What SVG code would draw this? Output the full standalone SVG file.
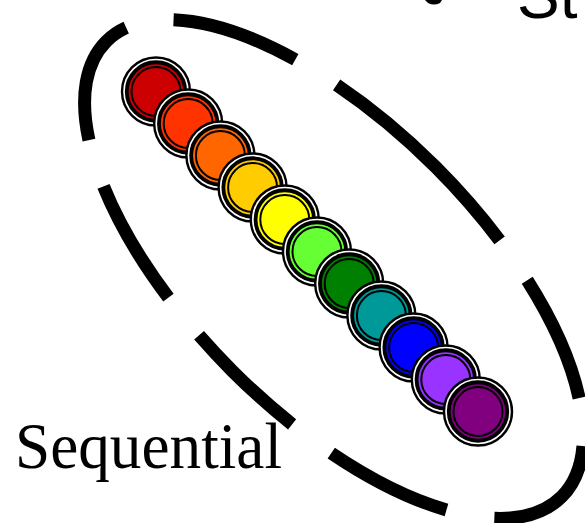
<svg xmlns="http://www.w3.org/2000/svg" width="585" height="523" viewBox="0 0 585 523">
  <style>
    .ring { fill: #ffffff; stroke: #000000; stroke-width: 2.4; }
    .mid { stroke: #000000; stroke-width: 3.8; }
    .inner { stroke: #000000; stroke-width: 2; }
    .cluster { fill: none; stroke: #000000; stroke-width: 13; stroke-dasharray: 129 48.5; stroke-linecap: butt; }
    .label { font-family: "Liberation Serif", "Times New Roman", serif; font-size: 65px; fill: #000000; }
    .title { font-family: "Liberation Sans", Arial, sans-serif; font-size: 64px; fill: #000000; }
  </style>
  <defs>
    <g id="node-shape">
      <circle r="34" class="ring"/>
    </g>
  </defs>
  <rect width="585" height="523" fill="#ffffff"/>

  <g id="cluster-sequential">
    <path class="cluster" d="M 435.8 167.2 A 322 144 45 0 0 106.3 41.3 A 322 144 45 0 0 232.2 370.8 A 322 144 45 0 0 561.7 496.7 A 322 144 45 0 0 435.8 167.2 Z"/>
    <text class="label" x="15" y="468" textLength="267" lengthAdjust="spacingAndGlyphs">Sequential</text>
  </g>

  <g id="other-cluster">
    <path d="M 425 0 L 442 0 L 440 3 Q 434 6 428 3 Z" fill="#000000"/>
    <text class="title" x="517" y="18">St</text>
  </g>

  <g id="connectors"></g>

  <g id="n1" transform="translate(156,91.5)">
    <use href="#node-shape"/>
    <circle r="29.25" class="mid" fill="#CC0000"/>
    <circle r="24.5" class="inner" fill="#CC0000"/>
  </g>
  <g id="n2" transform="translate(188.2,123.5)">
    <use href="#node-shape"/>
    <circle r="29.25" class="mid" fill="#FF3300"/>
    <circle r="24.5" class="inner" fill="#FF3300"/>
  </g>
  <g id="n3" transform="translate(220.4,155.5)">
    <use href="#node-shape"/>
    <circle r="29.25" class="mid" fill="#FF6600"/>
    <circle r="24.5" class="inner" fill="#FF6600"/>
  </g>
  <g id="n4" transform="translate(252.6,187.5)">
    <use href="#node-shape"/>
    <circle r="29.25" class="mid" fill="#FFCC00"/>
    <circle r="24.5" class="inner" fill="#FFCC00"/>
  </g>
  <g id="n5" transform="translate(284.8,219.5)">
    <use href="#node-shape"/>
    <circle r="29.25" class="mid" fill="#FFFF00"/>
    <circle r="24.5" class="inner" fill="#FFFF00"/>
  </g>
  <g id="n6" transform="translate(317,251.5)">
    <use href="#node-shape"/>
    <circle r="29.25" class="mid" fill="#66FF33"/>
    <circle r="24.5" class="inner" fill="#66FF33"/>
  </g>
  <g id="n7" transform="translate(349.2,283.5)">
    <use href="#node-shape"/>
    <circle r="29.25" class="mid" fill="#008000"/>
    <circle r="24.5" class="inner" fill="#008000"/>
  </g>
  <g id="n8" transform="translate(381.4,315.5)">
    <use href="#node-shape"/>
    <circle r="29.25" class="mid" fill="#009999"/>
    <circle r="24.5" class="inner" fill="#009999"/>
  </g>
  <g id="n9" transform="translate(413.6,347.5)">
    <use href="#node-shape"/>
    <circle r="29.25" class="mid" fill="#0000FF"/>
    <circle r="24.5" class="inner" fill="#0000FF"/>
  </g>
  <g id="n10" transform="translate(445.8,379.5)">
    <use href="#node-shape"/>
    <circle r="29.25" class="mid" fill="#9933FF"/>
    <circle r="24.5" class="inner" fill="#9933FF"/>
  </g>
  <g id="n11" transform="translate(478,411.5)">
    <use href="#node-shape"/>
    <circle r="29.25" class="mid" fill="#800080"/>
    <circle r="24.5" class="inner" fill="#800080"/>
  </g>
</svg>
